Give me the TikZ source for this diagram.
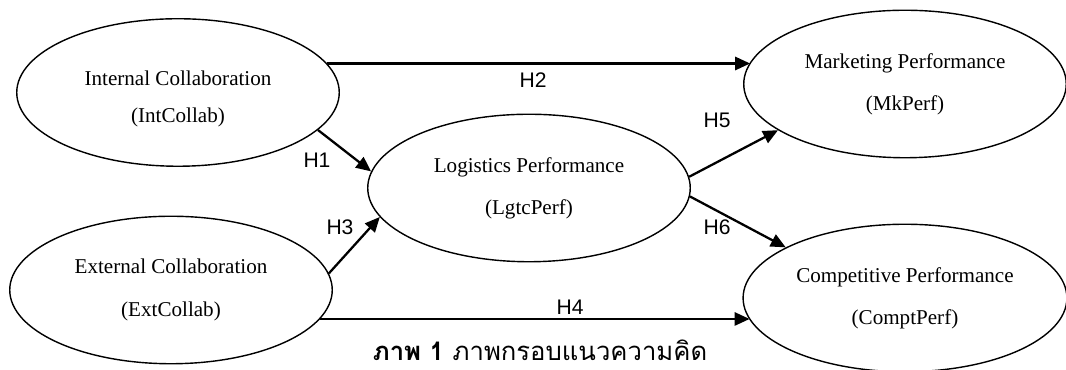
\documentclass[tikz,border=0pt]{standalone}
\usepackage{fontspec}
\setmainfont{Liberation Serif}
\newfontfamily\labelfont{Liberation Sans}
\newfontfamily\thaifont[Script=Thai]{Loma}
\usetikzlibrary{positioning,shapes.geometric,arrows.meta}

\begin{document}
\begin{tikzpicture}[
    construct/.style={draw, ellipse, line width=0.8pt, minimum width=6.45cm, minimum height=2.95cm,
        align=center, font=\fontsize{12}{24}\selectfont},
    arrow/.style={-{Triangle[length=8.5pt,width=7.5pt]}, line width=1.3pt},
    hyp/.style={font=\labelfont\fontsize{12}{14}\selectfont}
]
\useasboundingbox (0,0) rectangle (21.32,7.4);

% Left constructs
\node[construct] (int) at (3.56, 5.55) {};
\node[align=center, font=\fontsize{12}{21.5}\selectfont] (int-text) at ([yshift=-0.13cm]int.center) {Internal Collaboration\\(IntCollab)};
\node[construct] (ext) at (3.42, 1.60) {External Collaboration\\(ExtCollab)};

% Middle construct
\node[construct] (lgtc) at (10.58, 3.64) {Logistics Performance\\(LgtcPerf)};

% Right constructs
\node[construct] (mk) at (18.10, 5.72) {Marketing Performance\\(MkPerf)};
\node[construct] (compt) at (18.10, 1.44) {Competitive Performance\\(ComptPerf)};

% Hypothesised paths
\draw[arrow] (int.-15) -- (lgtc.174);
\draw[arrow] (int.11) -- (int.11 -| mk.172);
\draw[arrow] (ext.6) -- (lgtc.191);
\draw[arrow] (ext.-11) -- (ext.-11 -| compt.188);
\draw[arrow] (lgtc.4) -- (mk.200);
\draw[arrow] (lgtc.-3) -- (compt.157);

% Path labels
\node[hyp] (h1) at (6.34, 4.20) {H1};
\node[hyp] (h2) at (10.66, 5.80) {H2};
\node[hyp] (h3) at (6.80, 2.86) {H3};
\node[hyp] (h4) at (11.40, 1.26) {H4};
\node[hyp] (h5) at (14.34, 5.00) {H5};
\node[hyp] (h6) at (14.34, 2.86) {H6};

% Caption
\node[inner sep=0pt, font=\thaifont\fontsize{14.6}{16}\selectfont] (caption) at (10.80, 0.40) {\textbf{ภาพ 1} ภาพกรอบแนวความคิด};

\end{tikzpicture}
\end{document}
